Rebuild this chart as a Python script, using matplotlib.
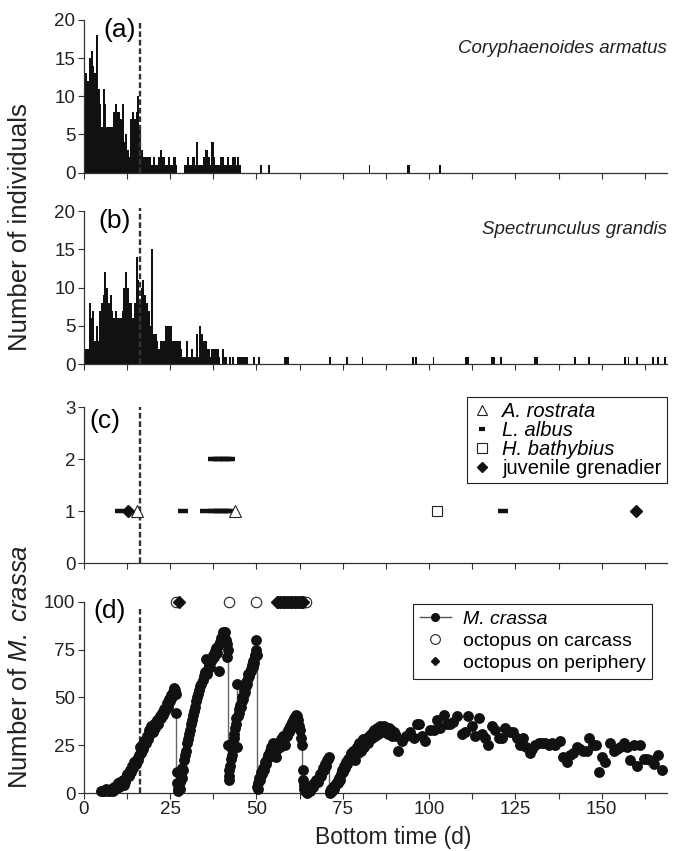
import numpy as np
import matplotlib
matplotlib.use('Agg')
import matplotlib.pyplot as plt
from matplotlib.lines import Line2D

plt.rcParams['font.family'] = ['Liberation Sans', 'DejaVu Sans']
plt.rcParams['mathtext.fontset'] = 'custom'
plt.rcParams['mathtext.rm'] = 'Liberation Sans'
plt.rcParams['mathtext.it'] = 'Liberation Sans:italic'
NARROW = ['Liberation Sans Narrow', 'Liberation Sans']

# ---- data -------------------------------------------------------------
BIN = 0.5  # days per count bin
# (a) Coryphaenoides armatus, counts per half-day from day 0
a_counts = [12, 13, 12, 15, 16, 14, 13, 18, 11, 9, 6, 11, 9, 6, 6, 6, 6, 8, 9, 8,
            8, 7, 9, 4, 5, 3, 2, 7, 8, 7, 8, 10, 6,
            3, 2, 2, 2, 2, 2, 1, 2, 1, 1, 2, 3, 2, 2, 1, 1, 2, 1, 1, 2, 1, 0, 0, 0, 0,
            1, 1, 2, 1, 1, 2, 1, 4, 1, 1, 1, 2, 3, 3, 2, 1, 4, 2, 1, 1, 1, 2, 2, 1, 1,
            2, 1, 1, 2, 2, 1, 2, 1]
a_late_days = [51.0, 53.5, 82.5, 93.5, 94.0, 103.0]

# (b) Spectrunculus grandis
b_counts = [2, 2, 2, 8, 6, 7, 3, 5, 3, 7, 8, 9, 12, 10, 8, 9, 7, 6, 7, 6,
            6, 6, 7, 10, 12, 10, 8, 8, 6, 8, 14, 11, 8, 10, 11, 9, 8, 7, 5, 15,
            4, 4, 3, 2, 3, 3, 3, 5, 5, 5, 5, 3, 3, 3, 3, 3, 2, 1, 1, 3,
            1, 1, 2, 1, 1, 4, 1, 5, 4, 3, 3, 2, 2, 1, 2, 2, 2, 2, 1, 0,
            2, 1, 1, 0, 1, 0, 1, 0, 0, 1, 1, 1, 1, 1, 1]
b_late_days = [49.0, 50.5, 58.0, 58.5, 59.0, 71.0, 76.0, 80.5, 95.0, 96.0, 101.0,
               110.5, 111.0, 118.0, 118.5, 120.5, 130.5, 131.0, 142.0, 146.0,
               156.5, 157.5, 160.0, 164.5, 166.0, 168.0]

# (c) other scavengers
rostrata_day = [15.3, 43.8]
rostrata_n = [1, 1]
albus_day = [10.4, 28.7, 35.2, 37.3, 38.3, 39.3, 40.3, 41.3, 42.0, 121.5,
             37.5, 38.5, 39.5, 40.5, 41.5, 42.3]
albus_n = [1, 1, 1, 1, 1, 1, 1, 1, 1, 1,
           2, 2, 2, 2, 2, 2]
bathybius_day = [102.3]
bathybius_n = [1]
grenadier_day = [12.8, 159.8]
grenadier_n = [1, 1]

# (d) Munidopsis crassa counts
crassa_day = [
    # rise 1
    5.0, 5.5, 6.0, 6.5, 7.0, 7.5, 8.0, 8.4, 8.8, 9.2, 9.6, 10.0, 10.3, 10.6, 11.0, 11.3,
    11.6, 12.0, 12.3, 12.6, 13.0, 13.3, 13.6, 14.0, 14.3, 14.6, 15.0, 15.3, 15.6, 16.0,
    16.3, 16.6, 17.0, 17.3, 17.6, 18.0, 18.3, 18.6, 19.0, 19.3, 19.6, 20.0, 20.3, 20.6,
    21.0, 21.3, 21.6, 22.0, 22.3, 22.6, 23.0, 23.3, 23.6, 24.0, 24.3, 24.6, 25.0, 25.3,
    25.6, 26.0, 26.2, 26.4, 26.6, 26.8,
    # rise 2
    26.9, 27.0, 27.2, 27.4, 27.6, 27.8, 28.0, 28.2, 28.4, 28.6, 28.8, 29.0, 29.3, 29.6,
    29.9, 30.2, 30.5, 30.8, 31.1, 31.4, 31.7, 32.0, 32.3, 32.6, 32.9, 33.2, 33.5, 33.8,
    34.1, 34.4, 34.7, 35.0, 35.3, 35.6, 35.9, 36.2, 36.5, 36.8, 37.1, 37.4, 37.7, 38.0,
    38.3, 38.6, 38.9, 39.2, 39.5, 39.8, 40.1, 40.4, 40.7, 41.0, 41.2, 41.4, 41.6, 41.8,
    # rise 3
    41.9, 42.0, 42.1, 42.2, 42.4, 42.6, 42.8, 43.0, 43.2, 43.4, 43.6, 43.8, 44.0, 44.2,
    44.3, 44.5, 44.7, 44.9, 45.1, 45.3, 45.5, 45.7, 45.9, 46.1, 46.3, 46.5, 46.7, 46.9,
    47.1, 47.3, 47.5, 47.7, 47.9, 48.1, 48.3, 48.5, 48.7, 48.9, 49.1, 49.3, 49.5, 49.7,
    49.9, 50.0, 50.1,
    # rise 4
    50.2, 50.4, 50.6, 50.8, 51.0, 51.3, 51.6, 51.9, 52.2, 52.5, 52.8, 53.1, 53.4, 53.7,
    54.0, 54.3, 54.6, 54.9, 55.2, 55.5, 55.8, 56.1, 56.4, 56.7, 57.0, 57.3, 57.6, 57.9,
    58.2, 58.5, 58.8, 59.1, 59.4, 59.7, 60.0, 60.3, 60.6, 60.9, 61.2, 61.5, 61.8, 62.1,
    62.4, 62.7, 63.0, 63.3,
    # rise 5
    63.4, 63.5, 63.7, 63.9, 64.1, 64.4, 64.7, 65.0, 65.3, 65.6, 65.9, 66.2, 66.5, 66.8,
    67.1, 67.4, 67.7, 68.0, 68.3, 68.6, 68.9, 69.2, 69.5, 69.8, 70.1, 70.4, 70.7, 71.0,
    # rise 6
    71.2, 71.4, 71.7, 72.0, 72.3, 72.6, 72.9, 73.2, 73.5, 73.8, 74.1, 74.4, 74.7, 75.0,
    75.3, 75.6, 75.9, 76.2, 76.5, 76.8, 77.1, 77.4, 77.7, 78.0, 78.3, 78.6, 78.9, 79.2,
    79.5, 79.8, 80.1, 80.4, 80.7, 81.0, 81.3, 81.6, 81.9, 82.2, 82.5, 82.8, 83.1, 83.4,
    83.7, 84.0, 84.3, 84.6, 84.9, 85.2, 85.5, 85.8, 86.1, 86.4, 86.7, 87.0, 87.3, 87.6,
    87.9, 88.2, 88.5, 88.8, 89.1, 89.4, 89.7, 90.0, 90.3,
    # later, sparse
    91.1, 92.1, 93.3, 94.5, 95.5, 96.4, 97.2, 97.9, 98.8, 100.3, 101.3, 102.2, 103.2,
    104.2, 105.1, 106.1, 107.0, 108.2, 109.5, 110.4, 111.4, 112.4, 113.3, 114.5, 115.3,
    116.2, 117.2, 118.1, 119.1, 120.1, 121.0, 122.0, 123.3, 124.2, 125.4, 126.4, 127.3,
    128.1, 129.1, 129.7, 130.7, 131.7, 132.6, 133.6, 134.6, 135.5, 136.5, 137.9, 138.9,
    139.9, 140.8, 141.8, 142.8, 143.7, 144.7, 145.7, 146.4, 147.4, 148.4, 149.3, 150.0,
    151.0, 152.4, 153.4, 154.3, 155.3, 156.3, 157.2, 158.2, 159.2, 160.3, 161.1, 162.1,
    163.0, 164.0, 165.2, 166.4, 167.4]
crassa_n = [
    1, 1, 1, 2, 1, 1, 2, 1, 3, 2, 4, 5, 3, 6, 5, 7,
    4, 6, 8, 10, 9, 12, 11, 14, 13, 16, 15, 18, 17, 20,
    24, 21, 25, 23, 27, 26, 30, 28, 33, 31, 35, 32, 36, 34,
    37, 38, 36, 40, 39, 42, 41, 44, 43, 47, 45, 49, 48, 51,
    50, 53, 55, 54, 52, 42,
    11, 5, 2, 1, 3, 2, 6, 9, 8, 13, 12, 17, 20, 22,
    26, 28, 31, 33, 36, 38, 41, 43, 45, 48, 50, 52, 54, 56,
    57, 59, 61, 63, 70, 62, 65, 67, 66, 69, 70, 72, 71, 74,
    76, 73, 77, 64, 79, 81, 80, 84, 83, 84, 80, 71, 78, 75,
    25, 12, 7, 9, 14, 18, 20, 23, 26, 29, 31, 34, 36, 39,
    57, 24, 40, 42, 44, 46, 45, 48, 50, 49, 52, 54, 53, 56,
    58, 57, 60, 62, 61, 63, 65, 64, 67, 66, 69, 68, 71, 72,
    75, 80, 72,
    3, 2, 5, 8, 7, 11, 10, 13, 12, 16, 15, 18, 20, 19,
    22, 24, 21, 26, 24, 20, 19, 23, 26, 24, 28, 27, 30, 26,
    25, 31, 30, 33, 32, 35, 34, 37, 36, 39, 38, 41, 40, 38,
    35, 33, 29, 25,
    12, 7, 4, 2, 1, 1, 0, 1, 2, 1, 3, 4, 3, 5,
    6, 7, 6, 8, 10, 9, 11, 13, 12, 15, 14, 17, 18, 19,
    1, 0, 2, 1, 3, 2, 4, 6, 5, 8, 7, 10, 12, 11,
    14, 13, 16, 15, 18, 17, 19, 21, 18, 22, 20, 17, 23, 24,
    21, 26, 25, 22, 27, 28, 24, 27, 29, 26, 30, 28, 31, 29,
    32, 33, 30, 32, 34, 31, 33, 35, 32, 34, 33, 35, 32, 34,
    33, 31, 34, 32, 33, 30, 32, 31, 30,
    22, 27, 30, 32, 29, 36, 36, 30, 27, 33, 33, 38, 34,
    41, 36, 36, 37, 40, 31, 32, 40, 35, 30, 39, 31,
    29, 25, 35, 33, 29, 29, 34, 32, 32, 29, 25, 29,
    24, 21, 23, 25, 26, 26, 26, 25, 26, 25, 27, 19,
    16, 20, 21, 24, 23, 22, 22, 29, 25, 25, 11, 19,
    16, 26, 22, 23, 24, 26, 24, 17, 25, 14, 25, 18,
    18, 17, 15, 20, 12]
assert len(crassa_day) == len(crassa_n)

# sudden drops in M. crassa numbers (drawn as connecting lines)
drop_day = [26.8, 41.8, 44.3, 50.1, 63.3, 71.1]
drop_top = [42, 75, 57, 72, 25, 19]
drop_bottom = [11, 25, 24, 3, 5, 1]

# octopus sightings (plotted on the top line, y = 100)
carcass_day = [26.8, 42.0, 50.0, 63.6, 64.0, 64.4]
periphery_day = [27.7, 56.0, 56.4, 56.8, 57.2, 57.6, 58.0, 58.4, 58.8, 59.2, 59.6,
                 60.0, 60.4, 60.8, 61.2, 61.6, 62.0, 62.4, 62.8, 63.2, 63.6]
OCTO_LEVEL = 100

BAIT_DAY = 16.2
XMAX = 168.8

# ---- figure -----------------------------------------------------------
fig = plt.figure(figsize=(6.8, 8.51), dpi=100)
L, W = 83.7 / 680, 583 / 680
ax_a = fig.add_axes([L, 1 - 172.5 / 851, W, 152.5 / 851])
ax_b = fig.add_axes([L, 1 - 364.3 / 851, W, 153.3 / 851])
ax_c = fig.add_axes([L, 1 - 563.2 / 851, W, 155.8 / 851])
ax_d = fig.add_axes([L, 1 - 793 / 851, W, 191.3 / 851])

SPINE = '#333333'
INK = '#111111'
for ax in (ax_a, ax_b, ax_c, ax_d):
    ax.set_xlim(0, XMAX)
    ax.set_xticks(np.arange(0, XMAX, 12.5))
    for side in ('top', 'right'):
        ax.spines[side].set_visible(False)
    for side in ('left', 'bottom'):
        ax.spines[side].set_color(SPINE)
        ax.spines[side].set_linewidth(0.9)
    ax.tick_params(direction='out', length=4, width=0.8, color=SPINE,
                   labelsize=13.5, labelfontfamily=NARROW, pad=2,
                   labelcolor='#222222')
    ax.tick_params(axis='x', labelbottom=False)
    ax.patch.set_alpha(0)


def dash_line(ax, top, clip=False):
    ax.axvline(BAIT_DAY, ymin=0, ymax=top, color='#333333', lw=1.7,
               dashes=(2.4, 1.2), clip_on=clip)


# (a)
bins_a = np.arange(len(a_counts)) * BIN
ax_a.bar(bins_a, a_counts, width=BIN * 1.2, align='edge', color=INK,
         linewidth=0, antialiased=False)
ax_a.bar(a_late_days, [1] * len(a_late_days), width=BIN, align='edge',
         color=INK, linewidth=0, antialiased=False)
ax_a.set_ylim(0, 20)
ax_a.set_yticks([0, 5, 10, 15, 20])
dash_line(ax_a, 0.98)
ax_a.text(0.033, 1.015, '(a)', transform=ax_a.transAxes, fontsize=19, va='top')
ax_a.text(1.0, 0.81, 'Coryphaenoides armatus', transform=ax_a.transAxes,
          fontsize=13.5, style='italic', ha='right', va='center', color='#222222')

# (b)
bins_b = np.arange(len(b_counts)) * BIN
ax_b.bar(bins_b, b_counts, width=BIN * 1.2, align='edge', color=INK,
         linewidth=0, antialiased=False)
ax_b.bar(b_late_days, [1] * len(b_late_days), width=BIN, align='edge',
         color=INK, linewidth=0, antialiased=False)
ax_b.set_ylim(0, 20)
ax_b.set_yticks([0, 5, 10, 15, 20])
dash_line(ax_b, 1.02)
ax_b.text(0.025, 1.015, '(b)', transform=ax_b.transAxes, fontsize=19, va='top')
ax_b.text(1.0, 0.88, 'Spectrunculus grandis', transform=ax_b.transAxes,
          fontsize=13.5, style='italic', ha='right', va='center', color='#222222')

# (c)
ax_c.plot(rostrata_day, rostrata_n, ls='none', marker='^', ms=8, mfc='white',
          mec='#222222', mew=0.8, clip_on=False, zorder=4)
ax_c.plot(albus_day, albus_n, ls='none', marker='_', ms=6.5, mew=3.2,
          color=INK, zorder=3)
ax_c.plot(bathybius_day, bathybius_n, ls='none', marker='s', ms=7.5, mfc='white',
          mec='#222222', mew=0.8, zorder=4)
ax_c.plot(grenadier_day, grenadier_n, ls='none', marker='D', ms=6,
          color=INK, zorder=4)
ax_c.set_ylim(0, 3)
ax_c.set_yticks([0, 1, 2, 3])
dash_line(ax_c, 1.0)
ax_c.text(0.01, 0.99, '(c)', transform=ax_c.transAxes, fontsize=19, va='top')
hc = [Line2D([], [], ls='none', marker='^', ms=7, mfc='white', mec='#222222', mew=0.8),
      Line2D([], [], ls='none', marker='_', ms=5, mew=3, color=INK),
      Line2D([], [], ls='none', marker='s', ms=6.5, mfc='white', mec='#222222', mew=0.8),
      Line2D([], [], ls='none', marker='D', ms=5, color=INK)]
leg_c = ax_c.legend(hc, ['A. rostrata', 'L. albus', 'H. bathybius', 'juvenile grenadier'],
                    loc='upper right', bbox_to_anchor=(1.0, 1.065), frameon=True,
                    fancybox=False, edgecolor='#222222', framealpha=1,
                    prop={'family': NARROW, 'size': 14.5}, handlelength=1.0,
                    handletextpad=0.5, labelspacing=0.0, borderpad=0.25,
                    borderaxespad=0)
leg_c.get_frame().set_linewidth(0.8)
for t in leg_c.get_texts()[:3]:
    t.set_style('italic')

# (d)
ax_d.vlines(drop_day, drop_bottom, drop_top, color='#666666', lw=1.0, zorder=2)
ax_d.plot(crassa_day, crassa_n, ls='none', marker='o', ms=6.8, color=INK,
          zorder=3, clip_on=False)
ax_d.plot(carcass_day, [OCTO_LEVEL] * len(carcass_day), ls='none', marker='o', ms=7.5,
          mfc='white', mec='#222222', mew=0.8, clip_on=False, zorder=4)
ax_d.plot(periphery_day, [OCTO_LEVEL] * len(periphery_day), ls='none', marker='D',
          ms=6, color=INK, clip_on=False, zorder=5)
ax_d.set_ylim(0, 100)
ax_d.set_yticks([0, 25, 50, 75, 100])
ax_d.set_xticks(np.arange(0, XMAX, 25))
ax_d.set_xticks(np.arange(12.5, XMAX, 25), minor=True)
ax_d.tick_params(axis='x', which='both', labelbottom=True, direction='out',
                 length=4, width=0.8, color=SPINE)
dash_line(ax_d, 0.96, clip=True)
ax_d.text(0.016, 1.015, '(d)', transform=ax_d.transAxes, fontsize=19, va='top')
hd = [Line2D([], [], color='#555555', lw=1, marker='o', ms=5.5, mfc=INK, mec=INK),
      Line2D([], [], ls='none', marker='o', ms=7, mfc='white', mec='#222222', mew=0.8),
      Line2D([], [], ls='none', marker='D', ms=4.5, color=INK)]
leg_d = ax_d.legend(hd, ['M. crassa', 'octopus on carcass', 'octopus on periphery'],
                    loc='upper right', bbox_to_anchor=(0.975, 0.99), frameon=True,
                    fancybox=False, edgecolor='#222222', framealpha=1,
                    prop={'size': 14}, handlelength=1.6,
                    handletextpad=0.6, labelspacing=0.22, borderpad=0.35,
                    borderaxespad=0)
leg_d.get_frame().set_linewidth(0.8)
leg_d.get_texts()[0].set_style('italic')

# shared labels
fig.text(0.030, 0.733, 'Number of individuals', rotation=90, fontsize=18.5,
         ha='center', va='center', color='#222222')
fig.text(0.030, 0.216, r'Number of $\it{M.\ crassa}$', rotation=90, fontsize=18.5,
         ha='center', va='center', color='#222222')
fig.text(0.578, 0.016, 'Bottom time (d)', fontsize=16.5, ha='center', va='center',
         color='#222222')

fig.savefig('out.png', dpi=100)
